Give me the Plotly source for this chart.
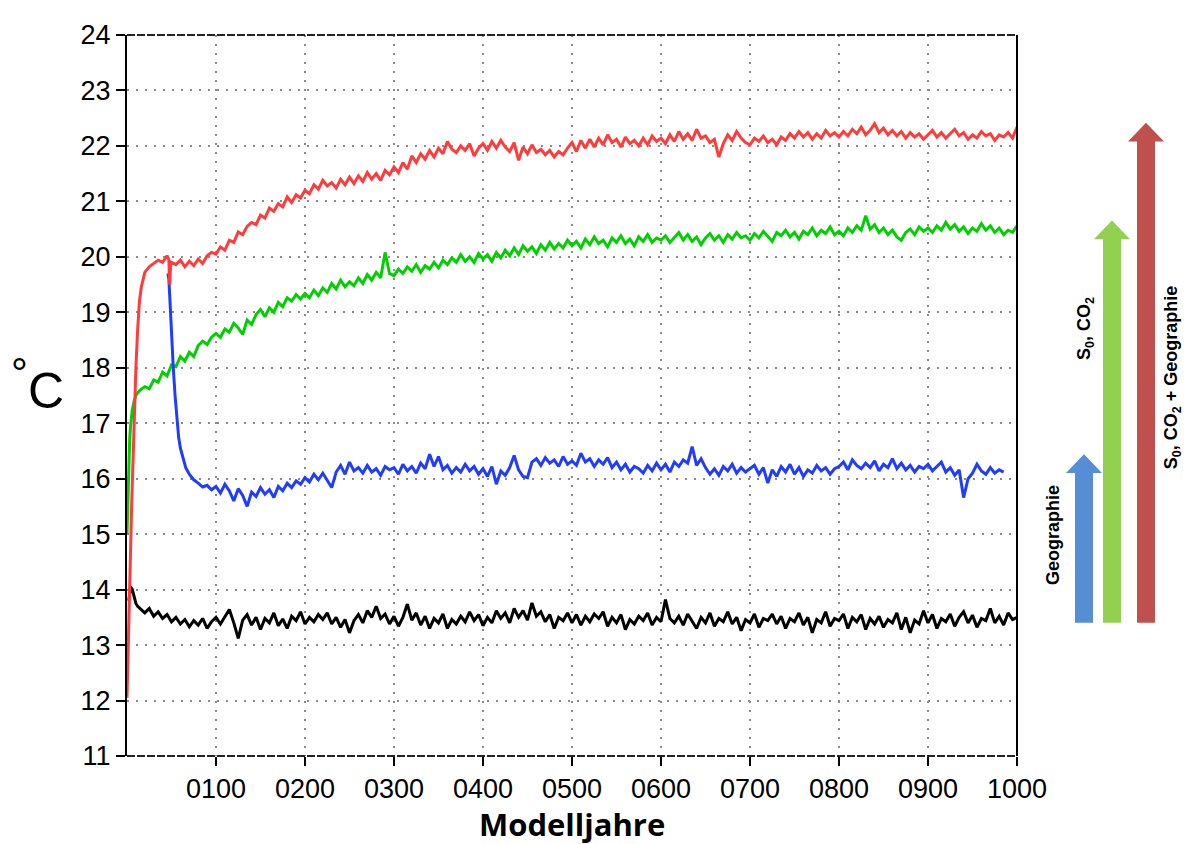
import plotly.graph_objects as go

# ---------------- data ----------------
black_years = [2, 4, 6, 8, 10, 12, 15] + list(range(20, 1001, 5))
black_vals = [13.80, 14.05, 14.00, 13.85, 13.75, 13.70, 13.65,
    13.58, 13.66, 13.52, 13.60, 13.48, 13.55, 13.42, 13.50, 13.38, 13.46, 13.33, 13.44, 13.36, 13.48, 13.30, 13.42, 13.50, 13.38, 13.52, 13.64,
    13.40, 13.12, 13.45, 13.55, 13.36, 13.50, 13.28, 13.48, 13.40, 13.58, 13.35, 13.47, 13.30, 13.52, 13.44, 13.60, 13.38, 13.50, 13.42, 13.55,
    13.46, 13.58, 13.38, 13.50, 13.32, 13.46, 13.22, 13.44, 13.55, 13.40, 13.62, 13.50, 13.70, 13.48, 13.56, 13.38, 13.52, 13.34, 13.50, 13.74,
    13.45, 13.58, 13.36, 13.52, 13.30, 13.48, 13.40, 13.56, 13.30, 13.46, 13.38, 13.52, 13.42, 13.60, 13.44, 13.55, 13.35, 13.50, 13.40, 13.62,
    13.48, 13.58, 13.40, 13.66, 13.50, 13.62, 13.45, 13.76, 13.52, 13.60, 13.42, 13.55, 13.30, 13.50, 13.44, 13.58, 13.40, 13.55, 13.36, 13.52,
    13.42, 13.56, 13.48, 13.60, 13.34, 13.50, 13.40, 13.55, 13.28, 13.46, 13.38, 13.52, 13.44, 13.58, 13.36, 13.50, 13.42, 13.82, 13.48, 13.40,
    13.52, 13.36, 13.56, 13.44, 13.30, 13.50, 13.40, 13.58, 13.34, 13.48, 13.42, 13.60, 13.38, 13.50, 13.26, 13.46, 13.40, 13.56, 13.32, 13.48,
    13.44, 13.56, 13.38, 13.52, 13.30, 13.48, 13.42, 13.58, 13.36, 13.50, 13.22, 13.46, 13.40, 13.60, 13.34, 13.48, 13.44, 13.56, 13.30, 13.50,
    13.42, 13.55, 13.28, 13.48, 13.38, 13.52, 13.32, 13.46, 13.40, 13.58, 13.28, 13.50, 13.22, 13.45, 13.38, 13.62, 13.40, 13.55, 13.30, 13.48,
    13.42, 13.56, 13.34, 13.50, 13.60, 13.40, 13.54, 13.32, 13.48, 13.44, 13.66, 13.40, 13.52, 13.36, 13.58, 13.46, 13.50]

blue_years = [46, 47, 48, 49, 50, 52, 54, 56, 58, 60, 63, 66, 70, 75, 80, 85, 90, 95] + list(range(100, 986, 5))
blue_vals = [19.70, 19.60, 19.30, 18.90, 18.60, 18.00, 17.50, 17.05, 16.75, 16.55, 16.35, 16.20, 16.08, 15.98, 15.92, 15.85, 15.88, 15.80,
    15.86, 15.74, 15.90, 15.78, 15.60, 15.82, 15.70, 15.50, 15.76, 15.68, 15.84, 15.72, 15.80, 15.66, 15.86, 15.78, 15.92, 15.84, 15.96, 15.90,
    16.02, 15.94, 16.08, 15.98, 16.10, 15.96, 15.84, 16.12, 16.24, 16.08, 16.30, 16.14, 16.20, 16.10, 16.24, 16.12, 16.18, 16.06, 16.22, 16.16,
    16.20, 16.08, 16.26, 16.14, 16.22, 16.10, 16.28, 16.18, 16.44, 16.22, 16.40, 16.16, 16.24, 16.10, 16.20, 16.12, 16.26, 16.14, 16.22, 16.08,
    16.18, 16.04, 16.22, 15.90, 16.14, 16.06, 16.20, 16.42, 16.16, 16.04, 16.02, 16.30, 16.36, 16.24, 16.38, 16.28, 16.34, 16.22, 16.40, 16.26,
    16.32, 16.24, 16.46, 16.30, 16.36, 16.22, 16.34, 16.26, 16.38, 16.20, 16.30, 16.16, 16.26, 16.12, 16.22, 16.18, 16.10, 16.24, 16.14, 16.28,
    16.16, 16.26, 16.12, 16.30, 16.22, 16.34, 16.28, 16.58, 16.24, 16.36, 16.20, 16.08, 16.18, 16.06, 16.22, 16.14, 16.26, 16.10, 16.20, 16.12,
    16.18, 16.24, 16.08, 16.20, 15.92, 16.16, 16.04, 16.22, 16.12, 16.26, 16.08, 16.20, 16.04, 16.16, 16.10, 16.24, 16.14, 16.20, 16.08, 16.18,
    16.22, 16.30, 16.16, 16.34, 16.24, 16.18, 16.28, 16.20, 16.32, 16.14, 16.26, 16.20, 16.36, 16.18, 16.28, 16.16, 16.24, 16.12, 16.22, 16.18,
    16.26, 16.14, 16.22, 16.30, 16.12, 16.20, 16.06, 16.16, 15.66, 16.00, 16.10, 16.26, 16.14, 16.08, 16.20, 16.10, 16.16, 16.12]

green_years = [0, 1, 2, 3, 4, 5, 6, 8, 10, 12] + list(range(15, 1001, 5))
green_vals = [15.00, 15.70, 16.30, 16.70, 16.95, 17.10, 17.25, 17.40, 17.50, 17.55,
    17.60, 17.66, 17.62, 17.78, 17.74, 17.92, 17.85, 18.05, 18.02, 18.20, 18.12, 18.28, 18.20, 18.40, 18.48, 18.42, 18.55,
    18.62, 18.55, 18.70, 18.64, 18.80, 18.72, 18.60, 18.86, 18.78, 18.96, 19.05, 18.92, 19.08, 19.00, 19.18, 19.10, 19.26, 19.20, 19.32, 19.24,
    19.34, 19.26, 19.40, 19.30, 19.44, 19.36, 19.52, 19.42, 19.58, 19.46, 19.55, 19.48, 19.62, 19.52, 19.68, 19.58, 19.72, 19.62, 20.08, 19.70,
    19.66, 19.78, 19.70, 19.82, 19.74, 19.86, 19.72, 19.84, 19.78, 19.90, 19.80, 19.94, 19.86, 19.98, 19.90, 20.04, 19.92, 20.00, 19.90, 20.06,
    19.96, 20.04, 19.92, 20.08, 19.98, 20.12, 20.02, 20.16, 20.04, 20.20, 20.10, 20.18, 20.06, 20.22, 20.12, 20.26, 20.14, 20.24, 20.16, 20.30,
    20.20, 20.28, 20.16, 20.32, 20.22, 20.36, 20.24, 20.30, 20.18, 20.34, 20.26, 20.38, 20.24, 20.32, 20.20, 20.36, 20.28, 20.40, 20.26, 20.34,
    20.30, 20.38, 20.26, 20.36, 20.44, 20.30, 20.40, 20.28, 20.36, 20.22, 20.34, 20.42, 20.30, 20.38, 20.26, 20.40, 20.32, 20.44, 20.34, 20.38,
    20.30, 20.42, 20.34, 20.46, 20.36, 20.28, 20.44, 20.38, 20.48, 20.36, 20.44, 20.32, 20.46, 20.40, 20.52, 20.38, 20.48, 20.42, 20.54, 20.40,
    20.46, 20.38, 20.52, 20.44, 20.56, 20.48, 20.74, 20.50, 20.58, 20.44, 20.52, 20.40, 20.48, 20.36, 20.30, 20.44, 20.50, 20.40, 20.54, 20.46,
    20.52, 20.44, 20.56, 20.48, 20.62, 20.50, 20.58, 20.46, 20.54, 20.42, 20.52, 20.46, 20.60, 20.48, 20.56, 20.44, 20.52, 20.40, 20.48, 20.44, 20.56]

red_years = [0, 1, 2, 3, 4, 5, 6, 7, 8, 9, 10, 12, 14, 16, 18, 20, 25, 30, 35, 40, 45, 47, 48, 49] + list(range(50, 1001, 5))
red_vals = [12.05, 12.60, 13.30, 14.00, 14.70, 15.40, 16.00, 16.60, 17.10, 17.60, 18.00, 18.70, 19.20, 19.45, 19.60, 19.72, 19.82, 19.88, 19.94, 19.90, 20.02, 19.95, 19.50, 19.85,
    19.90, 19.86, 19.94, 19.82, 19.92, 19.84, 19.96, 19.88, 20.02, 20.08,
    20.05, 20.18, 20.12, 20.30, 20.26, 20.45, 20.40, 20.55, 20.62, 20.58, 20.75, 20.70, 20.88, 20.82, 20.96, 20.90, 21.08, 20.98, 21.12, 21.06,
    21.20, 21.14, 21.30, 21.22, 21.38, 21.28, 21.34, 21.24, 21.40, 21.30, 21.44, 21.32, 21.46, 21.36, 21.52, 21.40, 21.50, 21.38, 21.56, 21.48,
    21.62, 21.52, 21.70, 21.58, 21.82, 21.70, 21.86, 21.76, 21.92, 21.80, 21.96, 21.86, 22.08, 21.94, 21.88, 22.00, 21.92, 22.04, 21.82, 21.96,
    22.04, 21.92, 22.08, 21.96, 22.10, 21.98, 21.90, 22.06, 21.74, 21.98, 21.86, 22.02, 21.88, 21.94, 21.84, 21.92, 21.80, 21.90, 21.84, 21.96,
    22.06, 21.90, 22.10, 21.96, 22.12, 21.98, 22.14, 22.02, 22.20, 22.06, 22.12, 21.98, 22.16, 22.04, 22.10, 22.00, 22.14, 22.02, 22.18, 22.08,
    22.14, 22.04, 22.20, 22.08, 22.26, 22.12, 22.22, 22.10, 22.30, 22.14, 22.18, 22.06, 22.12, 21.80, 22.04, 22.20, 22.10, 22.26, 22.14, 22.06,
    22.02, 22.14, 22.08, 22.18, 22.06, 22.12, 22.02, 22.16, 22.10, 22.22, 22.14, 22.26, 22.16, 22.24, 22.12, 22.22, 22.14, 22.28, 22.18, 22.24,
    22.16, 22.26, 22.18, 22.30, 22.22, 22.34, 22.20, 22.28, 22.40, 22.24, 22.32, 22.20, 22.28, 22.18, 22.26, 22.14, 22.24, 22.16, 22.22, 22.12,
    22.20, 22.28, 22.16, 22.24, 22.14, 22.22, 22.30, 22.18, 22.24, 22.12, 22.20, 22.14, 22.26, 22.18, 22.22, 22.10, 22.20, 22.16, 22.24, 22.14, 22.34]

x_tickvals = [100, 200, 300, 400, 500, 600, 700, 800, 900, 1000]
x_ticktext = ["0100", "0200", "0300", "0400", "0500", "0600", "0700", "0800", "0900", "1000"]
y_tickvals = list(range(11, 25))

arrow_labels = ["Geographie", "S<sub>0</sub>, CO<sub>2</sub>", "S<sub>0</sub>, CO<sub>2</sub> + Geographie"]

# ---------------- layout geometry (target pixels in the 1192x844 page) ----------------
OFF = 8                      # the page body adds an 8px margin around the figure
W, H = 1192 - OFF, 844 - OFF
L, R, T, B = 127, 1017, 25, 756


def px(x):
    return (x - L) / (R - L)


def py(y):
    return (B - y) / (B - T)


fig = go.Figure()
series = [
    (black_years, black_vals, "#000000"),
    (green_years, green_vals, "#00d000"),
    (blue_years, blue_vals, "#1f3cff"),
    (red_years, red_vals, "#ff3b3b"),
]
for xs, ys, col in series:
    fig.add_trace(go.Scatter(x=xs, y=ys, mode="lines",
                             line=dict(color=col, width=3),
                             showlegend=False, hoverinfo="skip"))

tick_font = dict(family="Liberation Sans, Arial, sans-serif", size=27, color="#000")

fig.update_layout(
    width=W, height=H,
    margin=dict(l=L - OFF, r=W - (R - OFF), t=T - OFF, b=H - (B - OFF), pad=0),
    paper_bgcolor="white", plot_bgcolor="white",
    xaxis=dict(range=[0, 1000], tickvals=x_tickvals, ticktext=x_ticktext,
               showgrid=True, gridcolor="#8a8a8a", griddash="2px,7px", gridwidth=1.5,
               showline=False, zeroline=False,
               ticks="outside", ticklen=9, tickwidth=2, tickcolor="#000",
               tickfont=tick_font),
    yaxis=dict(range=[11, 24], tickvals=y_tickvals,
               showgrid=True, gridcolor="#8a8a8a", griddash="2px,7px", gridwidth=1.5,
               showline=True, linecolor="#000", linewidth=2, zeroline=False,
               ticks="outside", ticklen=9, tickwidth=2, tickcolor="#000",
               tickfont=tick_font),
)

shapes = [
    dict(type="line", xref="paper", yref="paper", x0=0, x1=1, y0=1, y1=1,
         line=dict(color="#222", width=2, dash="8px,2px")),
    dict(type="line", xref="paper", yref="paper", x0=0, x1=1, y0=0, y1=0,
         line=dict(color="#222", width=2, dash="8px,2px")),
    dict(type="line", xref="paper", yref="paper", x0=1, x1=1, y0=0, y1=1,
         line=dict(color="#000", width=2)),
]

# arrows: (body left, body right, bottom, head base, tip, colour)
arrows = [
    (1075, 1093, 621, 469, 450, "#558ed5"),
    (1103, 1121, 621, 232, 213, "#92d050"),
    (1137, 1155, 621, 133, 114, "#c0504d"),
]
for xl, xr, yb, yh, yt, col in arrows:
    cx = (xl + xr) / 2
    hw = 18
    pts = [(xl, yb), (xl, yh), (cx - hw, yh), (cx, yt), (cx + hw, yh), (xr, yh), (xr, yb)]
    path = "M " + " L ".join(f"{px(a):.5f},{py(b):.5f}" for a, b in pts) + " Z"
    shapes.append(dict(type="path", xref="paper", yref="paper", path=path,
                       fillcolor=col, line=dict(width=0), layer="above"))
fig.update_layout(shapes=shapes)

lab_font = dict(family="Liberation Sans, Arial, sans-serif", size=18, color="#000", weight="bold")
label_pos = [(1053, 532), (1086, 323), (1172, 372)]
annotations = []
for (xp, yp), txt in zip(label_pos, arrow_labels):
    annotations.append(dict(x=px(xp), y=py(yp), xref="paper", yref="paper",
                            text=txt, textangle=-90, showarrow=False,
                            font=lab_font, xanchor="center", yanchor="middle"))
annotations.append(dict(x=px(19), y=py(368), xref="paper", yref="paper",
                        text="°", showarrow=False,
                        font=dict(family="Liberation Sans, Arial, sans-serif", size=42, color="#000"),
                        xanchor="center", yanchor="middle"))
annotations.append(dict(x=px(46), y=py(386), xref="paper", yref="paper",
                        text="C", showarrow=False,
                        font=dict(family="Liberation Sans, Arial, sans-serif", size=50, color="#000"),
                        xanchor="center", yanchor="middle"))
annotations.append(dict(x=px(572), y=py(825), xref="paper", yref="paper",
                        text="Modelljahre", showarrow=False,
                        font=dict(family="Open Sans, sans-serif", size=31, color="#000", weight="bold"),
                        xanchor="center", yanchor="middle"))
fig.update_layout(annotations=annotations)

fig.write_html("out.html")
